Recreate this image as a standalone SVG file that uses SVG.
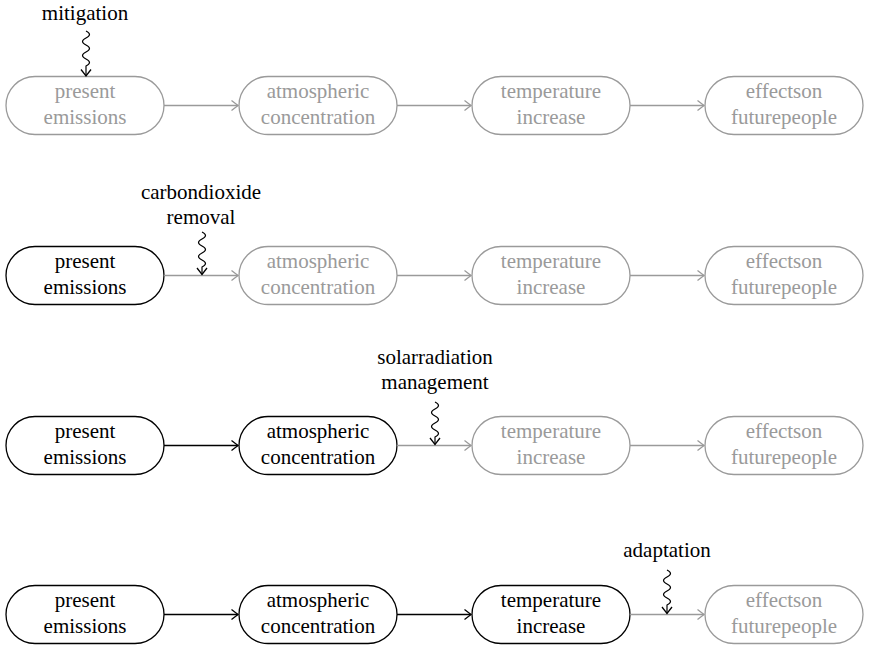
<svg xmlns="http://www.w3.org/2000/svg" width="870" height="645" viewBox="0 0 870 645">
<defs>
<marker id="mg" markerUnits="userSpaceOnUse" markerWidth="12" markerHeight="12" refX="8" refY="6" orient="auto" overflow="visible"><path d="M1.5,1 L8,6 L1.5,11" fill="none" stroke="#9a9a9a" stroke-width="1.3"/></marker>
<marker id="mb" markerUnits="userSpaceOnUse" markerWidth="12" markerHeight="12" refX="8" refY="6" orient="auto" overflow="visible"><path d="M1.5,1 L8,6 L1.5,11" fill="none" stroke="#000" stroke-width="1.3"/></marker>
</defs>

<g font-family="Times New Roman, Liberation Serif, serif" font-size="21" text-anchor="middle" stroke-width="1.3">
<g id="r1n1" fill="#9a9a9a"><rect x="6" y="76.5" width="158" height="58" rx="29" fill="#fff" stroke="#9a9a9a"/><text x="85" y="98" font-family="Times New Roman, serif">present</text><text x="85" y="123.5" font-family="Times New Roman, serif">emissions</text></g>
<g id="r1n2" fill="#9a9a9a"><rect x="239" y="76.5" width="158" height="58" rx="29" fill="#fff" stroke="#9a9a9a"/><text x="318" y="98" font-family="Times New Roman, serif">atmospheric</text><text x="318" y="123.5" font-family="Times New Roman, serif">concentration</text></g>
<g id="r1n3" fill="#9a9a9a"><rect x="472" y="76.5" width="158" height="58" rx="29" fill="#fff" stroke="#9a9a9a"/><text x="551" y="98" font-family="Times New Roman, serif">temperature</text><text x="551" y="123.5" font-family="Times New Roman, serif">increase</text></g>
<g id="r1n4" fill="#9a9a9a"><rect x="705" y="76.5" width="158" height="58" rx="29" fill="#fff" stroke="#9a9a9a"/><text x="784" y="98" font-family="Times New Roman, serif">effectson</text><text x="784" y="123.5" font-family="Times New Roman, serif">futurepeople</text></g>
<g id="r1lbl" fill="#000"><text x="85" y="20" font-family="Times New Roman, serif">mitigation</text></g>

<g id="r2n1" fill="#000"><rect x="6" y="246.5" width="158" height="58" rx="29" fill="#fff" stroke="#000"/><text x="85" y="268" font-family="Times New Roman, serif">present</text><text x="85" y="293.5" font-family="Times New Roman, serif">emissions</text></g>
<g id="r2n2" fill="#9a9a9a"><rect x="239" y="246.5" width="158" height="58" rx="29" fill="#fff" stroke="#9a9a9a"/><text x="318" y="268" font-family="Times New Roman, serif">atmospheric</text><text x="318" y="293.5" font-family="Times New Roman, serif">concentration</text></g>
<g id="r2n3" fill="#9a9a9a"><rect x="472" y="246.5" width="158" height="58" rx="29" fill="#fff" stroke="#9a9a9a"/><text x="551" y="268" font-family="Times New Roman, serif">temperature</text><text x="551" y="293.5" font-family="Times New Roman, serif">increase</text></g>
<g id="r2n4" fill="#9a9a9a"><rect x="705" y="246.5" width="158" height="58" rx="29" fill="#fff" stroke="#9a9a9a"/><text x="784" y="268" font-family="Times New Roman, serif">effectson</text><text x="784" y="293.5" font-family="Times New Roman, serif">futurepeople</text></g>
<g id="r2lbl" fill="#000"><text x="201" y="199" font-family="Times New Roman, serif">carbondioxide</text><text x="201" y="224" font-family="Times New Roman, serif">removal</text></g>

<g id="r3n1" fill="#000"><rect x="6" y="416.5" width="158" height="58" rx="29" fill="#fff" stroke="#000"/><text x="85" y="438" font-family="Times New Roman, serif">present</text><text x="85" y="463.5" font-family="Times New Roman, serif">emissions</text></g>
<g id="r3n2" fill="#000"><rect x="239" y="416.5" width="158" height="58" rx="29" fill="#fff" stroke="#000"/><text x="318" y="438" font-family="Times New Roman, serif">atmospheric</text><text x="318" y="463.5" font-family="Times New Roman, serif">concentration</text></g>
<g id="r3n3" fill="#9a9a9a"><rect x="472" y="416.5" width="158" height="58" rx="29" fill="#fff" stroke="#9a9a9a"/><text x="551" y="438" font-family="Times New Roman, serif">temperature</text><text x="551" y="463.5" font-family="Times New Roman, serif">increase</text></g>
<g id="r3n4" fill="#9a9a9a"><rect x="705" y="416.5" width="158" height="58" rx="29" fill="#fff" stroke="#9a9a9a"/><text x="784" y="438" font-family="Times New Roman, serif">effectson</text><text x="784" y="463.5" font-family="Times New Roman, serif">futurepeople</text></g>
<g id="r3lbl" fill="#000"><text x="435" y="364" font-family="Times New Roman, serif">solarradiation</text><text x="435" y="389" font-family="Times New Roman, serif">management</text></g>

<g id="r4n1" fill="#000"><rect x="6" y="585.5" width="158" height="58" rx="29" fill="#fff" stroke="#000"/><text x="85" y="607" font-family="Times New Roman, serif">present</text><text x="85" y="632.5" font-family="Times New Roman, serif">emissions</text></g>
<g id="r4n2" fill="#000"><rect x="239" y="585.5" width="158" height="58" rx="29" fill="#fff" stroke="#000"/><text x="318" y="607" font-family="Times New Roman, serif">atmospheric</text><text x="318" y="632.5" font-family="Times New Roman, serif">concentration</text></g>
<g id="r4n3" fill="#000"><rect x="472" y="585.5" width="158" height="58" rx="29" fill="#fff" stroke="#000"/><text x="551" y="607" font-family="Times New Roman, serif">temperature</text><text x="551" y="632.5" font-family="Times New Roman, serif">increase</text></g>
<g id="r4n4" fill="#9a9a9a"><rect x="705" y="585.5" width="158" height="58" rx="29" fill="#fff" stroke="#9a9a9a"/><text x="784" y="607" font-family="Times New Roman, serif">effectson</text><text x="784" y="632.5" font-family="Times New Roman, serif">futurepeople</text></g>
<g id="r4lbl" fill="#000"><text x="667" y="557" font-family="Times New Roman, serif">adaptation</text></g>
</g>

<g id="connectors" fill="none" stroke-width="1.3">
<g stroke="#9a9a9a" marker-end="url(#mg)">
<path d="M164,105.5 H238"/>
<path d="M397,105.5 H471"/>
<path d="M630,105.5 H704"/>
<path d="M164,275.5 H238"/>
<path d="M397,275.5 H471"/>
<path d="M630,275.5 H704"/>
<path d="M397,445.5 H471"/>
<path d="M630,445.5 H704"/>
<path d="M630,614.5 H704"/>
</g>
<g stroke="#000" marker-end="url(#mb)">
<path d="M164,445.5 H238"/>
<path d="M164,614.5 H238"/>
<path d="M397,614.5 H471"/>
<path stroke-width="1.2" d="M86,31 q7,3.5 0,7 t0,7 t0,7 t0,7 t0,7 L86,76"/>
<path stroke-width="1.2" d="M202,232 q7,3.5 0,7 t0,7 t0,7 t0,7 t0,7 L202,274.5"/>
<path stroke-width="1.2" d="M435,402 q7,3.5 0,7 t0,7 t0,7 t0,7 t0,7 L435,444.5"/>
<path stroke-width="1.2" d="M667,570 q7,3.5 0,7 t0,7 t0,7 t0,7 t0,7 L667,613.5"/>
</g>
</g>
</svg>
